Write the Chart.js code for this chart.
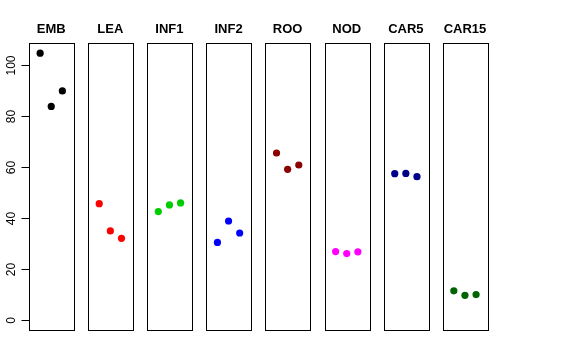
<!DOCTYPE html>
<html>
<head>
<meta charset="utf-8">
<script src="https://cdn.jsdelivr.net/npm/chart.js@4.4.1/dist/chart.umd.min.js"></script>
<style>
  body { margin: 0; background: #fff; }
  #wrap { position: relative; width: 576px; height: 360px; }
  #wrap canvas { position: absolute; left: 0; top: 0; }
</style>
</head>
<body>
<div id="wrap"></div>
<script>
// panel names and the three values in each panel
const categories = ['EMB', 'LEA', 'INF1', 'INF2', 'ROO', 'NOD', 'CAR5', 'CAR15'];
const xPos = [1, 2, 3];
const emb = [104.7, 83.8, 89.9];
const lea = [45.6, 34.9, 32.0];
const inf1 = [42.5, 45.1, 45.9];
const inf2 = [30.4, 38.8, 34.1];
const roo = [65.5, 59.1, 60.8];
const nod = [26.8, 26.0, 26.7];
const car5 = [57.4, 57.5, 56.2];
const car15 = [11.4, 9.6, 9.9];
const yTicks = [0, 20, 40, 60, 80, 100];

const series = [emb, lea, inf1, inf2, roo, nod, car5, car15];
const colors = ['#000000', '#ff0000', '#00cd00', '#0000ff', '#8b0000', '#ff00ff', '#00008b', '#006400'];

const W = 576, H = 360;
const panelLeft = 29, panelPitch = 59.1, panelWidth = 44.5;
const panelTop = 43, panelBottom = 330;
const font = '"Liberation Sans", Arial, Helvetica, sans-serif';

// 枠とタイトル、最初のパネルだけY軸
const panelDecor = {
    id: 'panelDecor',
    afterDraw(chart, args, opts) {
        const ctx = chart.ctx;
        const a = chart.chartArea;
        ctx.save();
        ctx.strokeStyle = '#000';
        ctx.lineWidth = 1;
        ctx.strokeRect(Math.round(a.left) + 0.5, Math.round(a.top) + 0.5,
            Math.round(a.right - a.left), Math.round(a.bottom - a.top));

        ctx.fillStyle = '#000';
        ctx.font = 'bold 13px ' + font;
        ctx.textAlign = 'center';
        ctx.textBaseline = 'middle';
        ctx.fillText(opts.title, (a.left + a.right) / 2, 29);

        if (opts.axis) {
            const y = chart.scales.y;
            const x0 = Math.round(a.left) + 0.5;
            ctx.beginPath();
            ctx.moveTo(x0, Math.round(y.getPixelForValue(yTicks[0])) + 0.5);
            ctx.lineTo(x0, Math.round(y.getPixelForValue(yTicks[yTicks.length - 1])) + 0.5);
            ctx.font = '12px ' + font;
            yTicks.forEach(v => {
                const py = Math.round(y.getPixelForValue(v)) + 0.5;
                ctx.moveTo(x0, py);
                ctx.lineTo(x0 - 8, py);
                ctx.save();
                ctx.translate(12, py);
                ctx.rotate(-Math.PI / 2);
                ctx.fillText(String(v), 0, 0);
                ctx.restore();
            });
            ctx.stroke();
        }
        ctx.restore();
    }
};

const wrap = document.getElementById('wrap');

categories.forEach((name, i) => {
    const canvas = document.createElement('canvas');
    canvas.width = W;
    canvas.height = H;
    wrap.appendChild(canvas);

    const left = panelLeft + i * panelPitch;
    new Chart(canvas.getContext('2d'), {
        type: 'scatter',
        data: {
            datasets: [{
                data: series[i].map((v, k) => ({ x: xPos[k], y: v })),
                backgroundColor: colors[i],
                borderWidth: 0,
                pointRadius: 3.6
            }]
        },
        options: {
            responsive: false,
            animation: false,
            layout: {
                padding: { left: left, right: W - left - panelWidth, top: panelTop, bottom: H - panelBottom }
            },
            scales: {
                x: { display: false, min: 0, max: 4 },
                y: { display: false, min: -4, max: 108.7 }
            },
            plugins: {
                legend: { display: false },
                tooltip: { enabled: false },
                panelDecor: { title: name, axis: i === 0 }
            }
        },
        plugins: [panelDecor]
    });
});
</script>
</body>
</html>
